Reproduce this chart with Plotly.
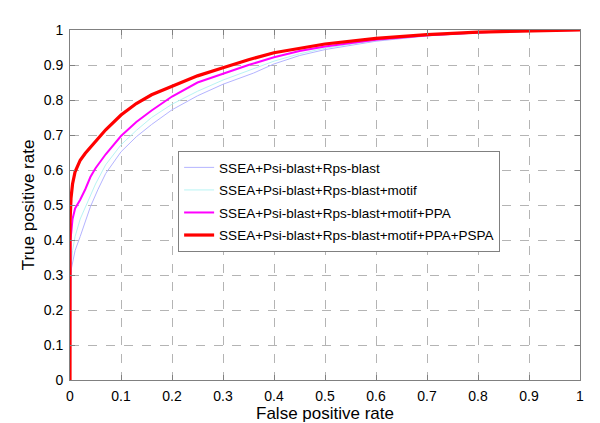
import plotly.graph_objects as go

# ROC curves (false positive rate -> true positive rate)
names = [
    "SSEA+Psi-blast+Rps-blast",
    "SSEA+Psi-blast+Rps-blast+motif",
    "SSEA+Psi-blast+Rps-blast+motif+PPA",
    "SSEA+Psi-blast+Rps-blast+motif+PPA+PSPA",
]

fpr_base = [0, 0.001, 0.003, 0.01, 0.02, 0.03, 0.04, 0.055, 0.07, 0.1, 0.13, 0.16,
            0.2, 0.25, 0.3, 0.36, 0.4, 0.45, 0.5, 0.6, 0.7, 0.8, 0.9, 1.0]
tpr_base = [0, 0.28, 0.32, 0.37, 0.41, 0.45, 0.495, 0.545, 0.59, 0.652, 0.695, 0.73,
            0.772, 0.812, 0.845, 0.877, 0.903, 0.927, 0.944, 0.968, 0.983, 0.992, 0.997, 1.0]

fpr_motif = [0, 0.002, 0.005, 0.01, 0.02, 0.035, 0.05, 0.07, 0.1, 0.13, 0.16, 0.2,
             0.25, 0.3, 0.35, 0.4, 0.45, 0.5, 0.6, 0.7, 0.8, 0.9, 1.0]
tpr_motif = [0, 0.32, 0.37, 0.41, 0.46, 0.51, 0.56, 0.615, 0.672, 0.713, 0.75, 0.788,
             0.825, 0.857, 0.885, 0.911, 0.932, 0.948, 0.97, 0.984, 0.992, 0.997, 1.0]

fpr_ppa = [0, 0.001, 0.005, 0.01, 0.02, 0.03, 0.04, 0.05, 0.07, 0.1, 0.13, 0.16, 0.2,
           0.25, 0.3, 0.35, 0.4, 0.45, 0.5, 0.6, 0.7, 0.8, 0.9, 1.0]
tpr_ppa = [0, 0.40, 0.46, 0.49, 0.515, 0.545, 0.58, 0.605, 0.645, 0.697, 0.737, 0.77, 0.81,
           0.85, 0.875, 0.9, 0.922, 0.94, 0.953, 0.972, 0.985, 0.993, 0.998, 1.0]

fpr_pspa = [0, 0, 0.002, 0.005, 0.01, 0.02, 0.03, 0.05, 0.07, 0.1, 0.13, 0.16, 0.2,
            0.25, 0.3, 0.35, 0.4, 0.45, 0.5, 0.6, 0.7, 0.8, 0.9, 0.95, 1.0]
tpr_pspa = [0, 0.45, 0.52, 0.56, 0.595, 0.628, 0.648, 0.682, 0.715, 0.757, 0.79, 0.815, 0.84,
            0.869, 0.892, 0.915, 0.935, 0.948, 0.96, 0.976, 0.987, 0.994, 0.998, 1.0, 1.0]

ticks = [0, 0.1, 0.2, 0.3, 0.4, 0.5, 0.6, 0.7, 0.8, 0.9, 1]
tick_text = ["0", "0.1", "0.2", "0.3", "0.4", "0.5", "0.6", "0.7", "0.8", "0.9", "1"]

curves = [
    (fpr_base, tpr_base, "#b4b4ff", 1),
    (fpr_motif, tpr_motif, "#b8f4f4", 1),
    (fpr_ppa, tpr_ppa, "#ff00ff", 2),
    (fpr_pspa, tpr_pspa, "#ff0000", 3.2),
]

fig = go.Figure()

for name, (x, y, color, width) in zip(names, curves):
    fig.add_trace(go.Scatter(
        x=x, y=y, mode='lines', name=name,
        line=dict(color=color, width=width),
        legendgroup=name,
    ))

axis_style = dict(
    range=[0, 1],
    tickvals=ticks,
    ticktext=tick_text,
    showgrid=True,
    gridcolor='#b4b4b4',
    griddash='dash',
    gridwidth=1,
    showline=True,
    linecolor='#808080',
    linewidth=1,
    mirror='ticks',
    ticks='inside',
    ticklen=5,
    tickcolor='#808080',
    zeroline=False,
    automargin=False,
    ticklabelstandoff=3,
    tickfont=dict(size=14, color='black'),
)

fig.update_xaxes(**axis_style, title=dict(text="False positive rate", font=dict(size=17), standoff=0))
fig.update_yaxes(**axis_style, title=dict(text="True positive rate", font=dict(size=17), standoff=4))

fig.update_layout(
    width=600,
    height=423,
    margin=dict(l=62, r=28, t=22, b=51),
    paper_bgcolor='white',
    plot_bgcolor='white',
    font=dict(family="Liberation Sans, Arial, sans-serif", color='black'),
    legend=dict(
        x=0.212, y=0.654, xanchor='left', yanchor='top',
        bgcolor='white', bordercolor='#808080', borderwidth=1,
        font=dict(size=13.5),
        itemwidth=30,
        tracegroupgap=2,
        traceorder='grouped',
    ),
)

fig.write_html("out.html")
